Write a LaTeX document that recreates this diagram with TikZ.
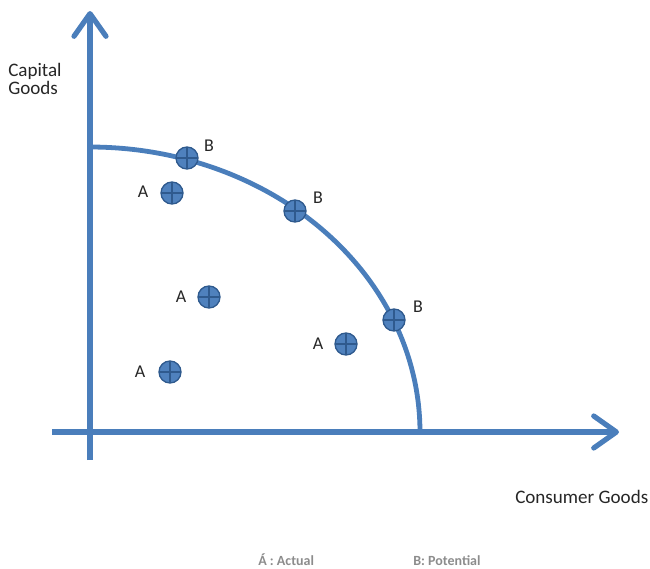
\documentclass[tikz,border=0pt]{standalone}
\usepackage{fontspec}
\setmainfont{Carlito}
\usetikzlibrary{arrows.meta}
\definecolor{axisblue}{HTML}{4A7EBB}
\definecolor{markfill}{HTML}{4F81BD}
\definecolor{markline}{HTML}{2F5A8E}
\definecolor{legendgrey}{HTML}{8C8C8C}
\tikzset{
  axisline/.style={draw=axisblue, line width=3.9pt, -{Straight Barb[length=17pt,width=24pt,round]}},
  ppf/.style={draw=axisblue, line width=3.6pt},
  pt/.style={circle, draw=markline, fill=markfill, line width=1pt, minimum size=16.5pt, inner sep=0pt,
    path picture={\draw[markline, line width=1pt] (path picture bounding box.north) -- (path picture bounding box.south)
      (path picture bounding box.west) -- (path picture bounding box.east);}},
  lbl/.style={font=\fontsize{13.5pt}{16pt}\selectfont, text=black!85, inner sep=0pt},
  axlbl/.style={font=\fontsize{14.3pt}{17pt}\selectfont, text=black!85, inner sep=0pt},
  legend/.style={font=\fontsize{10.5pt}{12pt}\selectfont\bfseries, text=legendgrey, inner sep=0pt}
}
\begin{document}
\begin{tikzpicture}[x=0.75pt, y=-0.75pt]
\useasboundingbox (0,0) rectangle (650,568);
\coordinate (ybot) at (90,460);
\coordinate (ytop) at (90,11);
\coordinate (xleft) at (52,432);
\coordinate (xright) at (619,432);
\draw[axisline] (ybot) -- (ytop);
\draw[axisline] (xleft) -- (xright);
\draw[ppf] plot[domain=0:90, samples=80, smooth] ({90+330*cos(\x)},{432-285*sin(\x)});
% potential points
\node[pt] (b1) at (187,158) {};
\node[pt] (b2) at (295,211) {};
\node[pt] (b3) at (394,320) {};
% actual points
\node[pt] (a1) at (172,193) {};
\node[pt] (a2) at (209,297) {};
\node[pt] (a3) at (346,344) {};
\node[pt] (a4) at (170,372) {};
\node[lbl] (lb1) at (209,146) {B};
\node[lbl] (lb2) at (318,198) {B};
\node[lbl] (lb3) at (418,307) {B};
\node[lbl] (la1) at (143,192) {A};
\node[lbl] (la2) at (181,297) {A};
\node[lbl] (la3) at (318,344) {A};
\node[lbl] (la4) at (140,372) {A};
\node[axlbl, anchor=base west] (cap1) at (8,76) {Capital};
\node[axlbl, anchor=base west] (cap2) at (8,94) {Goods};
\node[axlbl, anchor=base west] (con) at (515,503) {Consumer Goods};
\node[legend, anchor=base west] (leg1) at (258,565) {Á : Actual};
\node[legend, anchor=base west] (leg2) at (413,565) {B: Potential};
\end{tikzpicture}
\end{document}
